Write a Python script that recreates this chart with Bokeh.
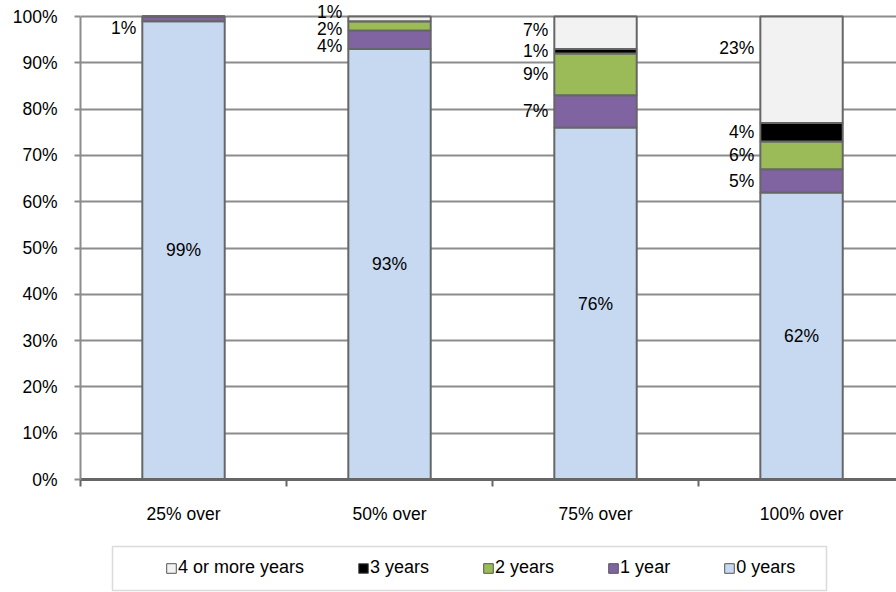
from bokeh.plotting import figure
from bokeh.layouts import column
from bokeh.models import (ColumnDataSource, Range1d, FixedTicker, PrintfTickFormatter,
                          LabelSet, Legend, LegendItem, BoxAnnotation)
from bokeh.core.properties import value
from bokeh.embed import file_html
from bokeh.resources import INLINE

categories = ["25% over", "50% over", "75% over", "100% over"]
series_names = ["0 years", "1 year", "2 years", "3 years", "4 or more years"]
years_0 = [99, 93, 76, 62]
years_1 = [1, 4, 7, 5]
years_2 = [0, 2, 9, 6]
years_3 = [0, 0, 1, 4]
years_4plus = [0, 1, 7, 23]

colors = ["#C6D9F1", "#8064A2", "#9BBB59", "#000000", "#F2F2F2"]
FONT = "Liberation Sans"
FS = "17.5px"

series = [years_0, years_1, years_2, years_3, years_4plus]
xs = [i + 0.5 for i in range(len(categories))]
BAR_W = 0.4

# frame: 479 px tall, 100% sits 16 px below its top
p = figure(width=896, height=540, output_backend="svg", toolbar_location=None,
           x_range=Range1d(0, 3.961), y_range=Range1d(0, 100 * 479 / 463),
           min_border_left=80, min_border_right=0, min_border_top=0,
           min_border_bottom=61)
p.outline_line_color = None
p.background_fill_color = "white"

# stacked bars
renderers = []
bottoms = [0.0] * len(categories)
label_x, label_y, label_t, label_align = [], [], [], []
# offsets (data units) to nudge overlapping side labels, per (series, category)
nudge = {(1, 0): -1.9, (4, 1): 1.4, (2, 1): -0.6, (1, 1): -1.3, (4, 3): 4.6, (4, 2): 0.6}
for si, vals in enumerate(series):
    tops = [b + v for b, v in zip(bottoms, vals)]
    src = ColumnDataSource(dict(x=xs, bottom=bottoms, top=tops))
    r = p.vbar(x="x", bottom="bottom", top="top", width=BAR_W, source=src,
               fill_color=colors[si], line_color="#666666", line_width=2)
    renderers.append(r)
    for ci, v in enumerate(vals):
        if v <= 0:
            continue
        mid = (bottoms[ci] + tops[ci]) / 2 + nudge.get((si, ci), 0)
        label_t.append(f"{v}%")
        label_y.append(mid)
        if si == 0:
            label_x.append(xs[ci])
            label_align.append("center")
        else:
            label_x.append(xs[ci] - BAR_W / 2)
            label_align.append("right")
    bottoms = tops

def pick(seq, kind):
    return [s for s, a in zip(seq, label_align) if a == kind]

lab_src_c = ColumnDataSource(dict(x=pick(label_x, "center"), y=pick(label_y, "center"),
                                  t=pick(label_t, "center")))
lab_src_r = ColumnDataSource(dict(x=pick(label_x, "right"), y=pick(label_y, "right"),
                                  t=pick(label_t, "right")))
p.add_layout(LabelSet(x="x", y="y", text="t", source=lab_src_c, text_align="center",
                      text_baseline="middle", text_font=value(FONT),
                      text_font_size=value(FS), text_color="#000000"))
p.add_layout(LabelSet(x="x", y="y", text="t", source=lab_src_r, text_align="right",
                      text_baseline="middle", x_offset=-6, text_font=value(FONT),
                      text_font_size=value(FS), text_color="#000000"))

# axes
p.xgrid.grid_line_color = None
p.ygrid.ticker = FixedTicker(ticks=list(range(0, 101, 10)))
p.ygrid.grid_line_color = "#8C8C8C"
p.ygrid.grid_line_width = 2

p.yaxis.ticker = FixedTicker(ticks=list(range(0, 101, 10)))
p.yaxis.bounds = (0, 100)
p.yaxis.formatter = PrintfTickFormatter(format="%d%%")
p.yaxis.axis_line_color = "#8C8C8C"
p.yaxis.axis_line_width = 2
p.yaxis.major_tick_line_color = "#8C8C8C"
p.yaxis.major_tick_line_width = 2
p.yaxis.major_tick_out = 6
p.yaxis.major_tick_in = 0
p.yaxis.minor_tick_line_color = None
p.yaxis.major_label_standoff = 17
p.yaxis.major_label_text_font = FONT
p.yaxis.major_label_text_font_size = FS
p.yaxis.major_label_text_color = "#000000"

p.xaxis.ticker = FixedTicker(ticks=xs, minor_ticks=[0, 1, 2, 3])
p.xaxis.major_label_overrides = {x: c for x, c in zip(xs, categories)}
p.xaxis.axis_line_color = "#666666"
p.xaxis.axis_line_width = 3
p.xaxis.major_tick_line_color = None
p.xaxis.minor_tick_line_color = "#666666"
p.xaxis.minor_tick_line_width = 2
p.xaxis.minor_tick_out = 7
p.xaxis.minor_tick_in = 0
p.xaxis.major_label_standoff = 17
p.xaxis.major_label_text_font = FONT
p.xaxis.major_label_text_font_size = FS
p.xaxis.major_label_text_color = "#000000"

# legend strip below (page pixel coordinates: x 80..896, y 540..592)
lg = figure(width=896, height=52, output_backend="svg", toolbar_location=None,
            x_range=Range1d(80, 896), y_range=Range1d(592, 540),
            x_axis_location=None, y_axis_location=None,
            min_border_left=80, min_border_right=0, min_border_top=0,
            min_border_bottom=0)
lg.xgrid.grid_line_color = None
lg.ygrid.grid_line_color = None
lg.outline_line_color = None
lg.add_layout(BoxAnnotation(left=112, right=826, top=546, bottom=590,
                            fill_color=None, line_color="#888888", line_width=1.5))
hidden = ColumnDataSource(dict(x=[0], top=[600], bottom=[600]))
dummies = [lg.vbar(x="x", top="top", bottom="bottom", width=1, source=hidden,
                   fill_color=c, line_color="#555555", line_width=1) for c in colors]
items = [LegendItem(label=series_names[i], renderers=[dummies[i]]) for i in [4, 3, 2, 1, 0]]
legend = Legend(items=items, orientation="horizontal", location=(85, 14),
                label_text_font=FONT, label_text_font_size="18px", label_text_color="#000000",
                glyph_width=12, glyph_height=12, label_standoff=1, spacing=53,
                padding=0, margin=0, border_line_color=None,
                background_fill_color=None, label_height=20)
lg.add_layout(legend, "center")

layout = column(p, lg, spacing=0)
open("out.html", "w").write(file_html(layout, INLINE))
